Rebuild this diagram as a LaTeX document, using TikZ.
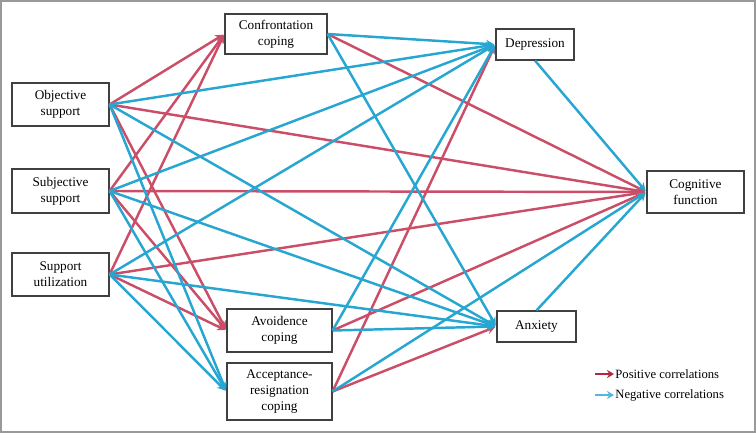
\documentclass[tikz,border=0pt]{standalone}
\usepackage{fontspec}
\setmainfont{Liberation Serif}
\usetikzlibrary{arrows.meta,positioning}
\definecolor{posred}{RGB}{203,78,104}
\definecolor{negblue}{RGB}{38,166,208}
\definecolor{legred}{RGB}{178,40,60}
\definecolor{legblue}{RGB}{80,185,220}
\tikzset{
  var/.style={draw=black!75, line width=1pt, fill=white, align=center, inner sep=1pt,
    font=\fontsize{11.3}{13.4}\selectfont},
  poscorr/.style={draw=posred, line width=2.1pt, -{Stealth[length=7pt,width=7pt]}, shorten >=1pt},
  negcorr/.style={draw=negblue, line width=2.1pt, -{Stealth[length=7pt,width=7pt]}, shorten >=1pt},
  legtext/.style={anchor=west, inner sep=1pt, font=\fontsize{10.8}{12}\selectfont},
}

\begin{document}
\begin{tikzpicture}[x=0.03cm,y=-0.03cm]
\useasboundingbox (0,0) rectangle (756,433);
\draw[black!40, line width=1.2pt] (1,1) rectangle (755,432);

\node[var, minimum width=2.91cm, minimum height=1.29cm] (objsup) at (60.5,104.5) {Objective\\support};
\node[var, minimum width=2.91cm, minimum height=1.32cm] (subsup) at (60.5,191) {Subjective\\support};
\node[var, minimum width=2.91cm, minimum height=1.29cm] (suputil) at (60.5,274.5) {Support\\utilization};
\node[var, minimum width=3.06cm, minimum height=1.2cm] (confront) at (276,34) {Confrontation\\coping};
\node[var, minimum width=3.15cm, minimum height=1.29cm] (avoid) at (279.5,330.5) {Avoidence\\coping};
\node[var, minimum width=3.15cm, minimum height=1.71cm] (accept) at (279.5,391.5) {Acceptance-\\resignation\\coping};
\node[var, minimum width=2.34cm, minimum height=0.93cm] (depress) at (535,44.5) {Depression};
\node[var, minimum width=2.37cm, minimum height=0.93cm] (anxiety) at (536.5,326.5) {Anxiety};
\node[var, minimum width=2.91cm, minimum height=1.26cm] (cogfun) at (695.5,192) {Cognitive\\function};

% positive correlations
\foreach \a/\b in {objsup/confront, objsup/avoid, objsup/cogfun,
                   subsup/confront, subsup/avoid, subsup/cogfun,
                   suputil/confront, suputil/avoid, suputil/cogfun,
                   confront/cogfun, avoid/cogfun, accept/depress, accept/anxiety}
  \draw[poscorr] (\a.east) -- (\b.west);

% negative correlations
\foreach \a/\b in {objsup/depress, objsup/anxiety, objsup/accept,
                   subsup/depress, subsup/anxiety, subsup/accept,
                   suputil/depress, suputil/anxiety, suputil/accept,
                   confront/depress, confront/anxiety,
                   avoid/depress, avoid/anxiety, accept/cogfun}
  \draw[negcorr] (\a.east) -- (\b.west);
\draw[negcorr] (depress.south) -- (cogfun.west);
\draw[negcorr] (anxiety.north) -- (cogfun.west);

% legend
\node[legtext] (legpos) at (614,374) {Positive correlations};
\node[legtext] (legneg) at (614,395) {Negative correlations};
\coordinate (legposstart) at (595,374);
\coordinate (legnegstart) at (595,395);
\draw[legred, line width=2pt, -{Stealth[length=6pt,width=7pt]}] (legposstart) -- (legpos.west);
\draw[legblue, line width=2pt, -{Stealth[length=6pt,width=7pt]}] (legnegstart) -- (legneg.west);
\end{tikzpicture}
\end{document}
